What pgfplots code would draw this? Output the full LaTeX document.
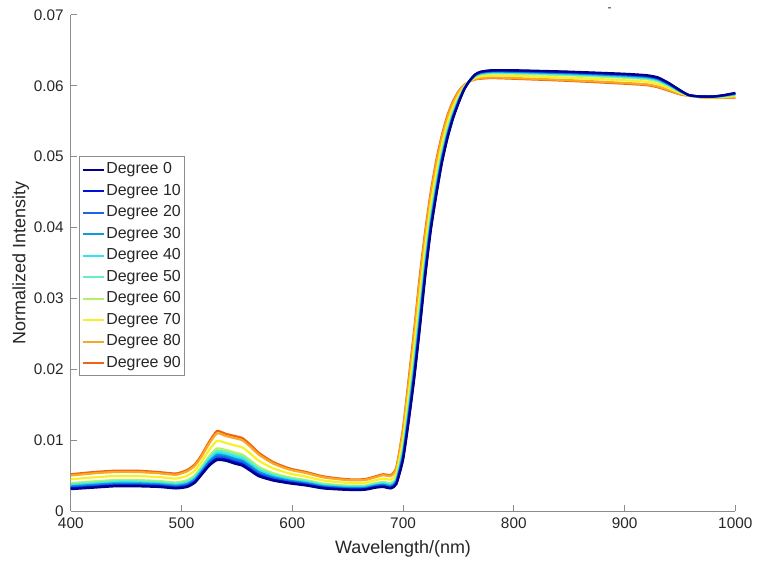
\documentclass[border=0pt]{standalone}
\usepackage{pgfplots}
\pgfplotsset{compat=1.18}
\usepackage{pgfplotstable}
\usepackage{fontspec}
\setmainfont{Liberation Sans}

\definecolor{c0}{HTML}{00008A}
\definecolor{c10}{HTML}{0012D2}
\definecolor{c20}{HTML}{1E64E6}
\definecolor{c30}{HTML}{0A9BE1}
\definecolor{c40}{HTML}{2DE6F0}
\definecolor{c50}{HTML}{64F0BE}
\definecolor{c60}{HTML}{B4F064}
\definecolor{c70}{HTML}{F8F028}
\definecolor{c80}{HTML}{F8A823}
\definecolor{c90}{HTML}{EE6414}
\definecolor{axgray}{HTML}{8C8C8C}
\definecolor{txt}{HTML}{262626}

\pgfplotstableread{
x d0 d10 d20 d30 d40 d50 d60 d70 d80 d90
400 0.00310 0.00321 0.00335 0.00348 0.00363 0.00377 0.00394 0.00449 0.00503 0.00520
420 0.00330 0.00341 0.00356 0.00370 0.00385 0.00400 0.00418 0.00475 0.00532 0.00550
440 0.00350 0.00361 0.00376 0.00390 0.00405 0.00420 0.00438 0.00495 0.00552 0.00570
460 0.00350 0.00361 0.00376 0.00390 0.00405 0.00420 0.00438 0.00495 0.00552 0.00570
480 0.00340 0.00351 0.00365 0.00378 0.00393 0.00407 0.00424 0.00479 0.00533 0.00550
495 0.00320 0.00331 0.00345 0.00358 0.00373 0.00387 0.00404 0.00459 0.00513 0.00530
505 0.00340 0.00352 0.00369 0.00383 0.00400 0.00417 0.00436 0.00498 0.00561 0.00580
512 0.00400 0.00413 0.00431 0.00447 0.00465 0.00483 0.00504 0.00572 0.00639 0.00660
518 0.00510 0.00524 0.00544 0.00560 0.00580 0.00600 0.00622 0.00695 0.00768 0.00790
525 0.00640 0.00657 0.00681 0.00701 0.00725 0.00749 0.00776 0.00864 0.00953 0.00980
532 0.00720 0.00741 0.00769 0.00794 0.00823 0.00851 0.00884 0.00991 0.01097 0.01130
540 0.00710 0.00729 0.00756 0.00778 0.00805 0.00832 0.00862 0.00961 0.01060 0.01090
548 0.00670 0.00690 0.00717 0.00740 0.00768 0.00795 0.00826 0.00927 0.01029 0.01060
555 0.00640 0.00660 0.00687 0.00710 0.00738 0.00765 0.00796 0.00897 0.00999 0.01030
562 0.00570 0.00589 0.00614 0.00637 0.00663 0.00688 0.00718 0.00814 0.00910 0.00940
570 0.00490 0.00507 0.00530 0.00549 0.00573 0.00596 0.00622 0.00708 0.00794 0.00820
583 0.00430 0.00443 0.00461 0.00477 0.00495 0.00513 0.00534 0.00602 0.00669 0.00690
598 0.00390 0.00401 0.00415 0.00428 0.00443 0.00457 0.00474 0.00529 0.00583 0.00600
613 0.00360 0.00370 0.00383 0.00394 0.00408 0.00421 0.00436 0.00485 0.00535 0.00550
628 0.00320 0.00329 0.00340 0.00351 0.00363 0.00374 0.00388 0.00432 0.00476 0.00490
649 0.00300 0.00308 0.00318 0.00327 0.00338 0.00348 0.00360 0.00399 0.00438 0.00450
665 0.00300 0.00308 0.00318 0.00327 0.00338 0.00348 0.00360 0.00399 0.00438 0.00450
675 0.00330 0.00338 0.00349 0.00359 0.00370 0.00381 0.00394 0.00436 0.00477 0.00490
682 0.00340 0.00349 0.00362 0.00372 0.00385 0.00398 0.00412 0.00459 0.00506 0.00520
689 0.00320 0.00330 0.00343 0.00354 0.00368 0.00381 0.00396 0.00445 0.00495 0.00510
694 0.00380 0.00392 0.00409 0.00423 0.00440 0.00457 0.00476 0.00538 0.00601 0.00620
700 0.00720 0.00743 0.00774 0.00801 0.00833 0.00864 0.00900 0.01017 0.01134 0.01170
705 0.01250 0.01280 0.01322 0.01358 0.01400 0.01442 0.01490 0.01646 0.01802 0.01850
710 0.01850 0.01885 0.01934 0.01976 0.02025 0.02074 0.02130 0.02312 0.02494 0.02550
715 0.02550 0.02588 0.02640 0.02685 0.02738 0.02790 0.02850 0.03045 0.03240 0.03300
720 0.03300 0.03333 0.03378 0.03417 0.03463 0.03508 0.03560 0.03729 0.03898 0.03950
725 0.03950 0.03978 0.04016 0.04049 0.04088 0.04126 0.04170 0.04313 0.04456 0.04500
730 0.04450 0.04475 0.04510 0.04540 0.04575 0.04610 0.04650 0.04780 0.04910 0.04950
735 0.04900 0.04920 0.04948 0.04972 0.05000 0.05028 0.05060 0.05164 0.05268 0.05300
740 0.05250 0.05267 0.05290 0.05309 0.05333 0.05356 0.05382 0.05468 0.05554 0.05580
745 0.05530 0.05543 0.05560 0.05575 0.05593 0.05610 0.05630 0.05695 0.05760 0.05780
750 0.05750 0.05759 0.05770 0.05781 0.05793 0.05804 0.05818 0.05862 0.05906 0.05920
755 0.05940 0.05944 0.05948 0.05953 0.05958 0.05962 0.05968 0.05986 0.06004 0.06010
760 0.06070 0.06070 0.06069 0.06068 0.06068 0.06067 0.06066 0.06063 0.06061 0.06060
765 0.06160 0.06157 0.06152 0.06147 0.06143 0.06138 0.06132 0.06114 0.06096 0.06090
770 0.06200 0.06195 0.06188 0.06182 0.06175 0.06168 0.06160 0.06134 0.06108 0.06100
780 0.06220 0.06215 0.06207 0.06200 0.06193 0.06185 0.06176 0.06147 0.06119 0.06110
800 0.06220 0.06214 0.06206 0.06198 0.06190 0.06182 0.06172 0.06141 0.06110 0.06100
850 0.06200 0.06194 0.06184 0.06177 0.06168 0.06158 0.06148 0.06114 0.06080 0.06070
900 0.06170 0.06163 0.06153 0.06145 0.06135 0.06125 0.06114 0.06078 0.06041 0.06030
920 0.06150 0.06143 0.06133 0.06125 0.06115 0.06105 0.06094 0.06058 0.06021 0.06010
930 0.06120 0.06113 0.06103 0.06095 0.06085 0.06075 0.06064 0.06028 0.05991 0.05980
940 0.06040 0.06035 0.06027 0.06020 0.06013 0.06005 0.05996 0.05967 0.05939 0.05930
950 0.05940 0.05937 0.05933 0.05929 0.05925 0.05921 0.05916 0.05900 0.05885 0.05880
958 0.05870 0.05870 0.05869 0.05868 0.05868 0.05867 0.05866 0.05863 0.05861 0.05860
968 0.05850 0.05850 0.05849 0.05848 0.05848 0.05847 0.05846 0.05843 0.05841 0.05840
980 0.05850 0.05849 0.05848 0.05846 0.05845 0.05844 0.05842 0.05837 0.05832 0.05830
990 0.05870 0.05868 0.05865 0.05863 0.05860 0.05857 0.05854 0.05844 0.05833 0.05830
1000 0.05900 0.05897 0.05892 0.05887 0.05883 0.05878 0.05872 0.05854 0.05836 0.05830
}\spectra

\begin{document}
\begin{tikzpicture}
\begin{axis}[
  scale only axis,
  width=333.5pt, height=249pt,
  xmin=400, xmax=1000, ymin=0, ymax=0.07,
  xtick={400,500,...,1000},
  ytick={0,0.01,...,0.07},
  axis x line*=bottom, axis y line*=left,
  axis line style={axgray, line width=0.5pt},
  tick align=inside, major tick length=3pt,
  tick style={axgray, line width=0.5pt},
  scaled y ticks=false,
  xticklabel style={/pgf/number format/set thousands separator={}},
  yticklabel style={/pgf/number format/fixed, /pgf/number format/precision=2},
  /pgf/number format/assume math mode=true,
  ticklabel style={font=\fontsize{7.7}{9}\selectfont, text=txt},
  xlabel={Wavelength/(nm)}, ylabel={Normalized Intensity},
  label style={font=\fontsize{9}{10}\selectfont, text=txt},
  xlabel style={yshift=1pt},
  ylabel style={yshift=-4.5pt},
  clip=false,
  reverse legend,
  legend cell align=left,
  legend style={at={(rel axis cs:0.012,0.715)}, anchor=north west,
    draw=axgray, line width=0.5pt, font=\fontsize{8}{9}\selectfont, text=txt,
    nodes={inner xsep=0.9pt, inner ysep=1.85pt},
    row sep=0pt, inner xsep=1.2pt, inner ysep=1pt},
  legend image code/.code={\draw[#1, line width=1pt] (0pt,0pt) -- (10.5pt,0pt);},
  every axis plot/.append style={line width=1.1pt, smooth, tension=0.35},
]
\addplot[c90] table[x=x, y=d90] {\spectra};
\addplot[c80] table[x=x, y=d80] {\spectra};
\addplot[c70] table[x=x, y=d70] {\spectra};
\addplot[c60] table[x=x, y=d60] {\spectra};
\addplot[c50] table[x=x, y=d50] {\spectra};
\addplot[c40] table[x=x, y=d40] {\spectra};
\addplot[c30] table[x=x, y=d30] {\spectra};
\addplot[c20] table[x=x, y=d20] {\spectra};
\addplot[c10] table[x=x, y=d10] {\spectra};
\addplot[c0] table[x=x, y=d0] {\spectra};
\legend{Degree 90, Degree 80, Degree 70, Degree 60, Degree 50, Degree 40, Degree 30, Degree 20, Degree 10, Degree 0}
\node[font=\fontsize{6}{6}\selectfont, text=txt] at (axis cs:886.6,0.0707) {-};
\path (axis cs:336.1,-0.00717) rectangle (axis cs:1018.9,0.07211);
\end{axis}
\end{tikzpicture}
\end{document}
